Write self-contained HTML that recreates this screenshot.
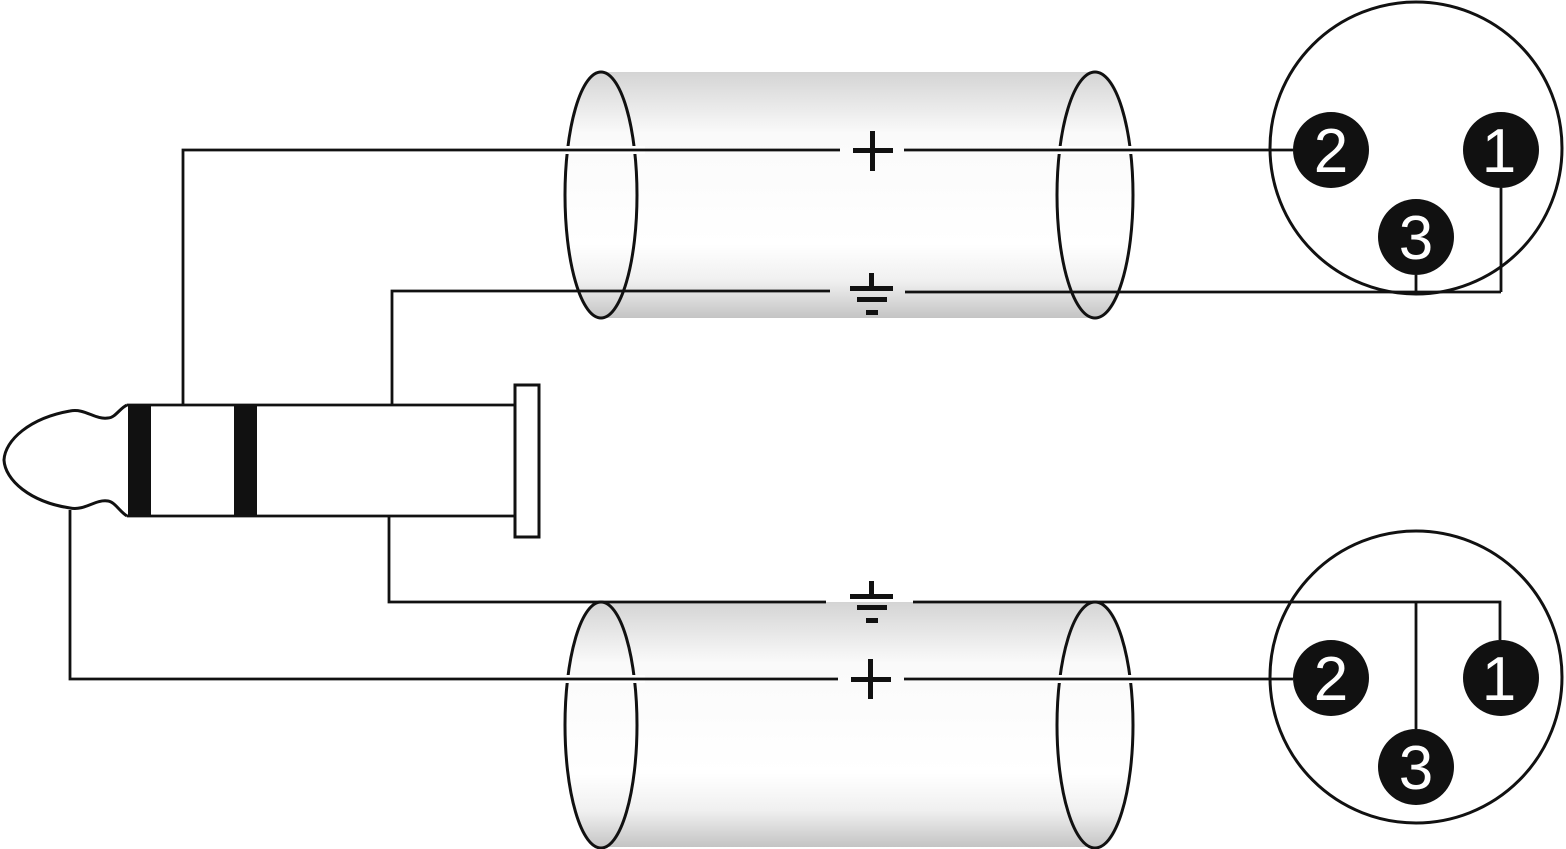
<!DOCTYPE html>
<html><head><style>body{margin:0;background:#fff}svg{display:block}</style></head>
<body>
<svg width="1566" height="849" viewBox="0 0 1566 849" xmlns="http://www.w3.org/2000/svg">
<defs>
<linearGradient id="g1" x1="0" y1="0" x2="0" y2="1">
<stop offset="0" stop-color="#d4d4d4"/><stop offset="0.25" stop-color="#fafafa"/><stop offset="0.7" stop-color="#ffffff"/><stop offset="0.85" stop-color="#f0f0f0"/><stop offset="1" stop-color="#c4c4c4"/>
</linearGradient>
</defs>
<g fill="url(#g1)" stroke="none">
<rect x="601" y="72" width="497" height="246"/>
<ellipse cx="601" cy="195" rx="36" ry="123"/>
<ellipse cx="1098" cy="195" rx="36" ry="123"/>
<rect x="601" y="602" width="497" height="245"/>
<ellipse cx="601" cy="725" rx="36" ry="123"/>
<ellipse cx="1098" cy="725" rx="36" ry="123"/>
</g>
<g fill="none" stroke="#111" stroke-width="3">
<ellipse cx="601" cy="195" rx="36" ry="123"/>
<ellipse cx="1095" cy="195" rx="38" ry="123"/>
<ellipse cx="601" cy="725" rx="36" ry="123"/>
<ellipse cx="1095" cy="725" rx="38" ry="123"/>
</g>
<g stroke="#fff" stroke-width="8">
<line x1="560" y1="150" x2="645" y2="150"/><line x1="1050" y1="150" x2="1140" y2="150"/>
<line x1="560" y1="679" x2="645" y2="679"/><line x1="1050" y1="679" x2="1140" y2="679"/>
</g>
<g fill="none" stroke="#111" stroke-width="2.8">
<polyline points="183,405 183,150 840,150"/>
<line x1="904" y1="150" x2="1293" y2="150"/>
<polyline points="392,405 392,291 830,291"/>
<line x1="905" y1="292" x2="1501" y2="292"/>
<line x1="1501" y1="188" x2="1501" y2="292"/>
<line x1="1416" y1="275" x2="1416" y2="292"/>
<polyline points="389,516 389,602 826,602"/>
<polyline points="913,602 1500,602 1500,640"/>
<line x1="1416" y1="602" x2="1416" y2="729"/>
<polyline points="70,510 70,679 838,679"/>
<line x1="904" y1="679" x2="1293" y2="679"/>
<circle cx="1416" cy="148" r="146" stroke-width="3"/>
<circle cx="1416" cy="677" r="146" stroke-width="3"/>
<rect x="515" y="385" width="24" height="152" stroke-width="3"/>
<line x1="127" y1="405" x2="515" y2="405"/>
<line x1="127" y1="516" x2="515" y2="516"/>
<path d="M127,405 C120,408 115,418 108,418 C95,420 85,408 70,411 C30,418 5,440 4,460 C5,480 30,502 70,508 C85,511 95,499 108,501 C115,502 120,512 127,516" stroke-width="3"/>
</g>
<g fill="#111">
<rect x="128" y="405" width="23" height="111"/>
<rect x="234" y="405" width="23" height="111"/>
<rect x="853" y="148" width="40" height="5"/><rect x="870" y="131" width="5" height="40"/>
<rect x="851" y="677" width="40" height="5"/><rect x="868" y="659" width="5" height="40"/>
<rect x="869" y="273" width="5" height="14"/><rect x="850" y="286" width="43" height="5"/><rect x="857" y="297" width="30" height="5"/><rect x="866" y="310" width="12" height="5"/>
<rect x="869" y="581" width="5" height="14"/><rect x="850" y="594" width="43" height="5"/><rect x="857" y="605" width="30" height="5"/><rect x="866" y="618" width="12" height="5"/>
<circle cx="1331" cy="150" r="38"/><circle cx="1501" cy="150" r="38"/><circle cx="1416" cy="237" r="38"/>
<circle cx="1331" cy="678" r="38"/><circle cx="1501" cy="678" r="38"/><circle cx="1416" cy="767" r="38"/>
</g>
<g fill="#fff" font-family="Liberation Sans, sans-serif" font-size="62" text-anchor="middle">
<text x="1331" y="172">2</text><text x="1499" y="172">1</text><text x="1416" y="259">3</text>
<text x="1331" y="700">2</text><text x="1499" y="700">1</text><text x="1416" y="789">3</text>
</g>
</svg>
</body></html>
